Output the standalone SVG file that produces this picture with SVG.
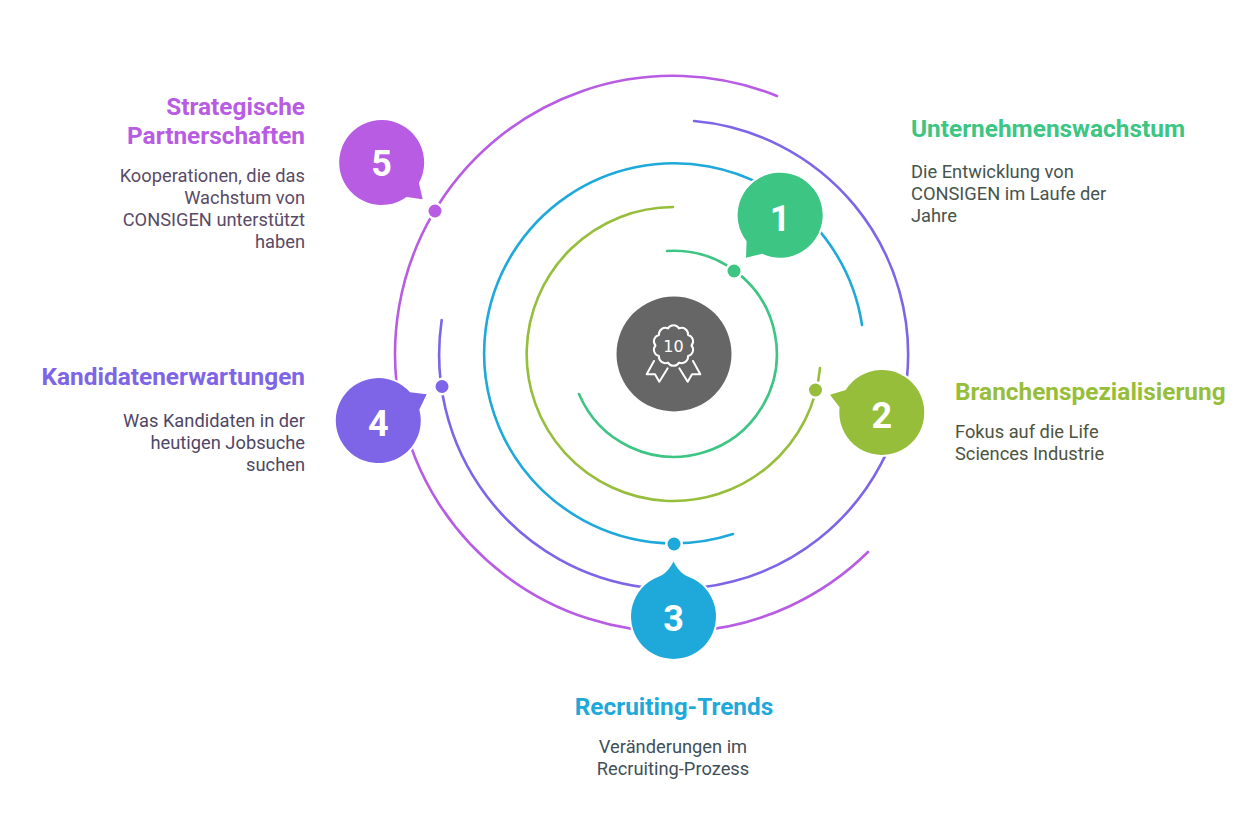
<svg xmlns="http://www.w3.org/2000/svg" width="1260" height="840" viewBox="0 0 1260 840">
<style>
text{font-family:Roboto,"Liberation Sans",sans-serif}
.h{font-size:24.4px;font-weight:700}
.b{font-size:18.3px}
.n{font-size:36px;font-weight:700;fill:#fff;text-anchor:middle}
.e{text-anchor:end}
.m{text-anchor:middle}
.a{fill:none;stroke-width:2.6;stroke-linecap:round}
.d{stroke:#fff;stroke-width:5;paint-order:stroke}
.s{stroke:#fff;stroke-width:4;paint-order:stroke}
.i{fill:none;stroke:#fff;stroke-width:2;stroke-linejoin:round;stroke-linecap:round}
</style>
<rect width="1260" height="840" fill="#fff"/>
<g id="connectors">
<path class="a" stroke="#B75CE3" d="M868 552A278 278 0 1 1 777 96"/>
<path class="a" stroke="#7E65E8" d="M694 121A234.500 234.500 0 1 1 441.700 320"/>
<path class="a" stroke="#1EA9DA" d="M733 534A190 190 0 1 1 862 325"/>
<path class="a" stroke="#96BE3A" d="M820 368A147 147 0 1 1 673 207"/>
<path class="a" stroke="#3CC583" d="M667 251A103 103 0 1 1 579 394"/>
</g>
<g id="center">
<circle cx="674" cy="354" r="57.500" fill="#666"/>
<path class="i" d="M667.940 328.380A6.500 6.500 0 0 1 679.060 328.380A6.500 6.500 0 0 1 688.060 334.920A6.500 6.500 0 0 1 691.500 345.500A6.500 6.500 0 0 1 688.060 356.080A6.500 6.500 0 0 1 679.060 362.620A6.500 6.500 0 0 1 667.940 362.620A6.500 6.500 0 0 1 658.940 356.080A6.500 6.500 0 0 1 655.500 345.500A6.500 6.500 0 0 1 658.940 334.920A6.500 6.500 0 0 1 667.940 328.380Z"/>
<path class="i" d="M654 361L646.700 374.300L655 374.300L659.300 381.700L667.700 368.300M693 361L700.300 374.300L692 374.300L687.700 381.700L679.300 368.300"/>
<text x="673.500" y="351.500" class="m" style="font-family:'DejaVu Sans',sans-serif" font-size="16" fill="#fff">10</text>
</g>
<g id="node-1">
<path class="s" fill="#3CC583" d="M746.600 241.300L746 257.800L762.150 253.700A42.500 42.500 0 1 0 746.600 241.300Z"/>
<circle cx="734" cy="271" r="6.500" fill="#3CC583" class="d"/>
<text x="780" y="230.700" class="n">1</text>
<text x="911" y="136.500" class="h" fill="#3CC583">Unternehmenswachstum</text>
<text class="b" fill="#46544d"><tspan x="911" y="178">Die Entwicklung von</tspan><tspan x="911" y="200">CONSIGEN im Laufe der</tspan><tspan x="911" y="222">Jahre</tspan></text>
</g>
<g id="node-2">
<path class="s" fill="#96BE3A" d="M845.700 390L830 394.700L839.600 407.250A42.500 42.500 0 1 0 845.700 390Z"/>
<circle cx="815.500" cy="390" r="6.500" fill="#96BE3A" class="d"/>
<text x="881.800" y="427.500" class="n">2</text>
<text x="955" y="400" class="h" fill="#96BE3A">Branchenspezialisierung</text>
<text class="b" fill="#4d5440"><tspan x="955" y="438">Fokus auf die Life</tspan><tspan x="955" y="460">Sciences Industrie</tspan></text>
</g>
<g id="node-3">
<path class="s" fill="#1EA9DA" d="M673.500 561.500C670 568 666 574 658 576.900A42.500 42.500 0 1 0 689 576.900C681 574 677 568 673.500 561.500Z"/>
<circle cx="674" cy="544" r="6.500" fill="#1EA9DA" class="d"/>
<text x="673.500" y="631" class="n">3</text>
<text x="674" y="714.500" class="h m" fill="#1EA9DA">Recruiting-Trends</text>
<text class="b m" fill="#3f5058"><tspan x="673" y="753">Veränderungen im</tspan><tspan x="673" y="775">Recruiting-Prozess</tspan></text>
</g>
<g id="node-4">
<path class="s" fill="#7E65E8" d="M410 392.300L426.700 394.300L419.300 409.500A42.500 42.500 0 1 1 410 392.300Z"/>
<circle cx="442" cy="386.500" r="6.500" fill="#7E65E8" class="d"/>
<text x="378.300" y="436" class="n">4</text>
<text x="305" y="385" class="h e" fill="#7E65E8">Kandidatenerwartungen</text>
<text class="b e" fill="#4e4766"><tspan x="305" y="427">Was Kandidaten in der</tspan><tspan x="305" y="449">heutigen Jobsuche</tspan><tspan x="305" y="471">suchen</tspan></text>
</g>
<g id="node-5">
<path class="s" fill="#B75CE3" d="M418.900 183L422.700 199.300L406.500 197A42.500 42.500 0 1 1 418.900 183Z"/>
<circle cx="435" cy="211" r="6.500" fill="#B75CE3" class="d"/>
<text x="381.700" y="176" class="n">5</text>
<text class="h e" fill="#B75CE3"><tspan x="305" y="115">Strategische</tspan><tspan x="305" y="144">Partnerschaften</tspan></text>
<text class="b e" fill="#594a66"><tspan x="305" y="182">Kooperationen, die das</tspan><tspan x="305" y="204">Wachstum von</tspan><tspan x="305" y="226">CONSIGEN unterstützt</tspan><tspan x="305" y="248">haben</tspan></text>
</g>
</svg>
